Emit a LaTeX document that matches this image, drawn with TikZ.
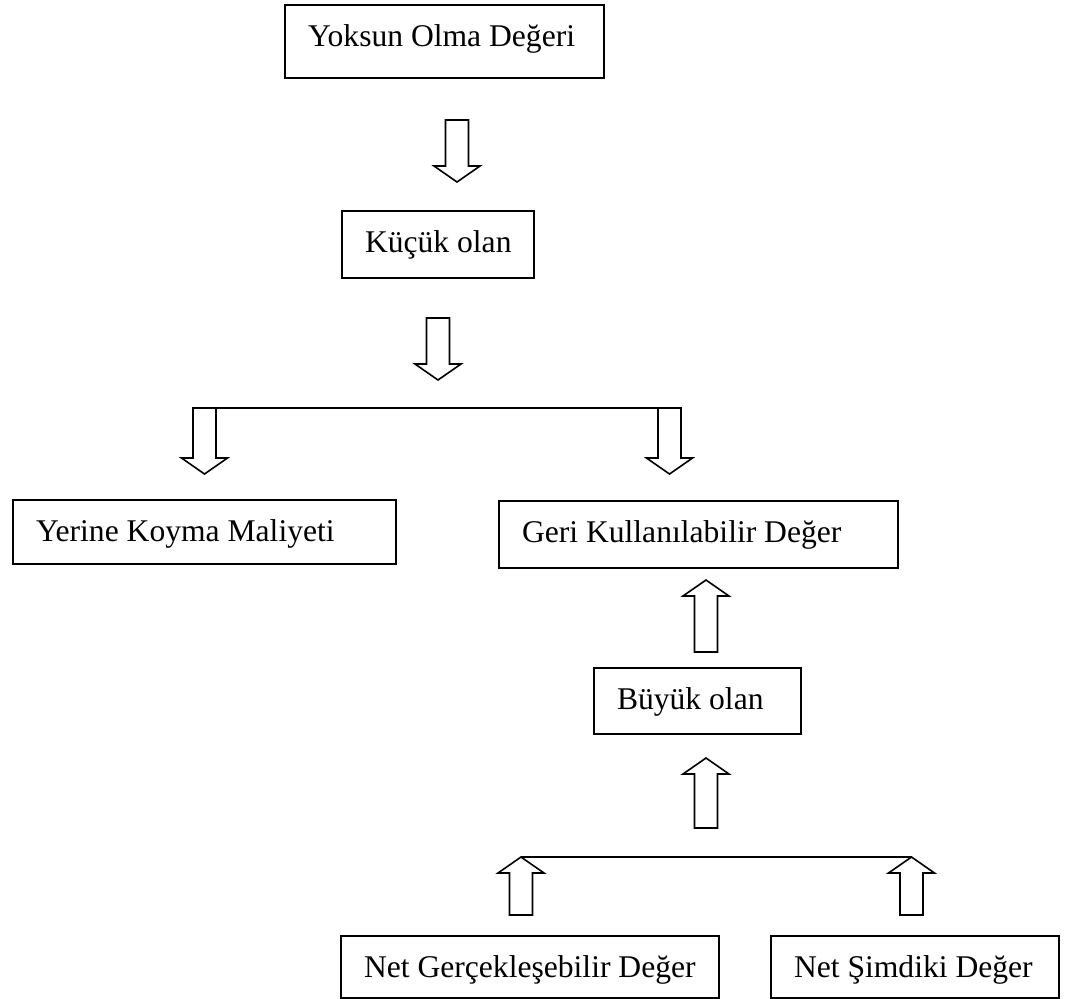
\documentclass[tikz,border=0pt]{standalone}
\usepackage{fontspec}
\setmainfont{Liberation Serif}
\usetikzlibrary{calc}

% block arrow from the tail centre #1 to the tip #2; #3 = offset of the head base from the tip
\newcommand{\blockarrow}[3]{%
  \draw[blk] let \p1=(#1), \p2=(#2) in
    (\x1-5.75pt,\y1) -- (\x1+5.75pt,\y1) -- (\x1+5.75pt,\y2+#3pt)
    -- (\x1+11.5pt,\y2+#3pt) -- (\x2,\y2) -- (\x1-11.5pt,\y2+#3pt)
    -- (\x1-5.75pt,\y2+#3pt) -- cycle;}
\newcommand{\boxtext}[2]{\makebox[#1][l]{#2}}

\begin{document}
\begin{tikzpicture}[x=0.5pt,y=-0.5pt,
  box/.style={draw, line width=1pt, anchor=north west, inner xsep=11.5pt,
    inner ysep=0pt, text height=20.5pt, text depth=#1,
    font=\fontsize{15.8pt}{19pt}\selectfont},
  blk/.style={draw, line width=0.8pt, fill=white, line join=miter},
  bar/.style={draw, line width=1pt}]
\useasboundingbox (0,0) rectangle (1072,998);

% boxes
\node[box=16pt]   (yok)  at (284,4)   {\boxtext{136.5pt}{Yoksun Olma Değeri}};
\node[box=13pt]   (kuc)  at (341,210) {\boxtext{73pt}{Küçük olan}};
\node[box=11.5pt] (yer)  at (12,499)  {\boxtext{168.5pt}{Yerine Koyma Maliyeti}};
\node[box=13pt]   (geri) at (498,500) {\boxtext{176.5pt}{Geri Kullanılabilir Değer}};
\node[box=12.5pt] (buy)  at (593,667) {\boxtext{80.5pt}{Büyük olan}};
\node[box=10.5pt] (ng)   at (340,935) {\boxtext{166pt}{Net Gerçekleşebilir Değer}};
\node[box=10.5pt] (ns)   at (770,935) {\boxtext{121pt}{Net Şimdiki Değer}};

% arrow ends
\coordinate (a1t) at (457,120); \coordinate (a1h) at (457,182);
\coordinate (a2t) at (438,318); \coordinate (a2h) at (438,380);
\coordinate (splitL) at (193,408); \coordinate (splitR) at (680,408);
\coordinate (a3t) at (204.5,408); \coordinate (a3h) at (204.5,474);
\coordinate (a4t) at (669.5,408); \coordinate (a4h) at (669.5,474);
\coordinate (a5t) at (706,652); \coordinate (a5h) at (706,580);
\coordinate (a6t) at (706,828); \coordinate (a6h) at (706,758);
\coordinate (joinL) at (521,857); \coordinate (joinR) at (911.5,857);
\coordinate (a7t) at (521,915); \coordinate (a8t) at (911.5,915);

% downward flow
\blockarrow{a1t}{a1h}{8}
\blockarrow{a2t}{a2h}{8}
\blockarrow{a3t}{a3h}{8}
\blockarrow{a4t}{a4h}{8}
\draw[bar] (splitL) -- (splitR);

% upward flow
\blockarrow{a5t}{a5h}{-8}
\blockarrow{a6t}{a6h}{-8}
\blockarrow{a7t}{joinL}{-8}
\blockarrow{a8t}{joinR}{-8}
\draw[bar] (joinL) -- (joinR);
\end{tikzpicture}
\end{document}
